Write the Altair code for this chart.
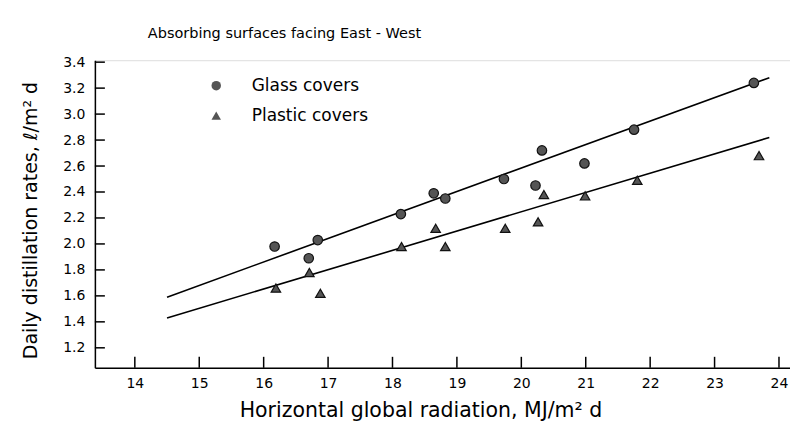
import altair as alt
import pandas as pd

# Data
glass_x = [16.17, 16.70, 16.84, 18.13, 18.64, 18.82, 19.73, 20.22, 20.32, 20.98, 21.75, 23.61]
glass_y = [1.98, 1.89, 2.03, 2.23, 2.39, 2.35, 2.50, 2.45, 2.72, 2.62, 2.88, 3.24]
plastic_x = [16.19, 16.71, 16.88, 18.14, 18.67, 18.82, 19.75, 20.26, 20.35, 20.99, 21.80, 23.69]
plastic_y = [1.66, 1.78, 1.62, 1.98, 2.12, 1.98, 2.12, 2.17, 2.38, 2.37, 2.49, 2.68]

glass_fit_x = [14.5, 23.85]
glass_fit_y = [1.59, 3.28]
plastic_fit_x = [14.5, 23.85]
plastic_fit_y = [1.43, 2.82]

x_ticks = [14, 15, 16, 17, 18, 19, 20, 21, 22, 23, 24]
y_ticks = [1.2, 1.4, 1.6, 1.8, 2.0, 2.2, 2.4, 2.6, 2.8, 3.0, 3.2, 3.4]

series = ["Glass covers", "Plastic covers"]

pts = pd.DataFrame({
    "x": glass_x + plastic_x,
    "y": glass_y + plastic_y,
    "series": [series[0]] * len(glass_x) + [series[1]] * len(plastic_x),
})
fits = pd.DataFrame({
    "x": glass_fit_x + plastic_fit_x,
    "y": glass_fit_y + plastic_fit_y,
    "series": [series[0]] * 2 + [series[1]] * 2,
})
xt = pd.DataFrame({"x": x_ticks})
yt = pd.DataFrame({"y": y_ticks})

W, H = 696, 308
FONT = "DejaVu Sans"

xscale = alt.Scale(domain=[13.380, 24.171], nice=False, zero=False)
yscale = alt.Scale(domain=[1.046, 3.415], nice=False, zero=False)

xaxis = alt.Axis(
    values=x_ticks, format="d", ticks=False, grid=False, domainColor="black",
    domainWidth=1.5, labelFontSize=14, labelColor="black", labelPadding=9,
    labelOverlap=False,
    title="Horizontal global radiation, MJ/m² d", titleFontSize=20.5,
    titleFontWeight="normal", titleColor="black", titlePadding=10, titleX=326,
)
yaxis = alt.Axis(
    values=y_ticks, format=".1f", ticks=False, grid=False, domainColor="black",
    domainWidth=1.5, labelFontSize=14, labelColor="black", labelPadding=10,
    labelOverlap=False,
    title="Daily distillation rates, ℓ/m² d", titleFontSize=19,
    titleFontWeight="normal", titleColor="black", titlePadding=22, titleY=160,
)

X = alt.X("x:Q", scale=xscale, axis=xaxis)
Y = alt.Y("y:Q", scale=yscale, axis=yaxis)

base_pts = alt.Chart(pts).mark_point(
    filled=True, fill="#555555", stroke="#111111", strokeWidth=1.2, opacity=1, size=90
).encode(
    x=X,
    y=Y,
    shape=alt.Shape(
        "series:N",
        scale=alt.Scale(domain=series, range=["circle", "triangle-up"]),
        legend=alt.Legend(
            title=None, orient="none", legendX=113, legendY=17, padding=0,
            labelFontSize=17, labelColor="black", labelOffset=27, rowPadding=12,
            symbolFillColor="#555555", symbolStrokeColor="#111111",
            symbolStrokeWidth=1.2, symbolSize=90, labelFont=FONT,
        ),
    ),
)

lines = alt.Chart(fits).mark_line(color="black", strokeWidth=1.6).encode(
    x=X,
    y=Y,
    detail="series:N",
)

xtick_marks = alt.Chart(xt).mark_rule(color="black", strokeWidth=1.5).encode(
    x=X,
    y=alt.value(H),
    y2=alt.value(H - 11),
)
ytick_marks = alt.Chart(yt).mark_rule(color="black", strokeWidth=1.5).encode(
    y=Y,
    x=alt.value(0),
    x2=alt.value(10),
)

chart = alt.layer(lines, xtick_marks, ytick_marks, base_pts).properties(
    width=W, height=H,
    title=alt.TitleParams(
        "Absorbing surfaces facing East - West", anchor="start", frame="group",
        dx=53, fontSize=14.5, fontWeight="normal", color="black", offset=14,
        font=FONT,
    ),
    autosize=alt.AutoSizeParams(type="none"),
    padding={"left": 87, "top": 52, "right": 0, "bottom": 64},
    background="white",
).configure_view(stroke=None).configure(font=FONT).configure_axis(
    labelFont=FONT, titleFont=FONT
)

chart.save("out.html", embed_options={"renderer": "svg", "actions": False})
